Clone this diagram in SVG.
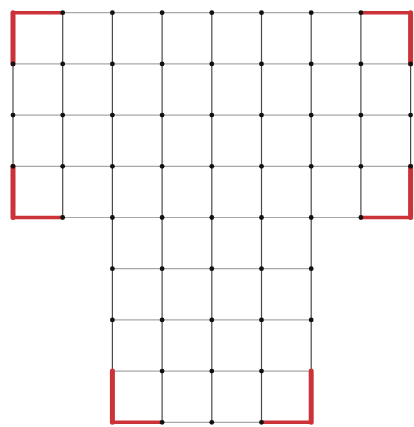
<svg xmlns="http://www.w3.org/2000/svg" width="414" height="427" viewBox="0 0 414 427">
<style>
.h{stroke:#a8a8a8;stroke-width:1.2;fill:none}
.v{stroke:#4a4a4a;stroke-width:1.2;fill:none}
.rv{stroke:#cc3338;stroke-width:5;fill:none;stroke-linecap:round}
.rh{stroke:#cc3338;stroke-width:3.5;fill:none}
.d{fill:#111}
</style>
<rect width="414" height="427" fill="#fff"/>
<g id="connectors">
<g id="horizontal">
<line class="h" x1="13" y1="12.7" x2="410.6" y2="12.7"/>
<line class="h" x1="13" y1="63.9" x2="410.6" y2="63.9"/>
<line class="h" x1="13" y1="115.1" x2="410.6" y2="115.1"/>
<line class="h" x1="13" y1="166.3" x2="410.6" y2="166.3"/>
<line class="h" x1="13" y1="217.5" x2="410.6" y2="217.5"/>
<line class="h" x1="112.4" y1="268.7" x2="311.2" y2="268.7"/>
<line class="h" x1="112.4" y1="319.9" x2="311.2" y2="319.9"/>
<line class="h" x1="112.4" y1="371.1" x2="311.2" y2="371.1"/>
<line class="h" x1="112.4" y1="422.3" x2="311.2" y2="422.3"/>
</g>
<g id="vertical">
<line class="v" x1="13" y1="12.7" x2="13" y2="217.5"/>
<line class="v" x1="62.7" y1="12.7" x2="62.7" y2="217.5"/>
<line class="v" x1="112.4" y1="12.7" x2="112.4" y2="422.3"/>
<line class="v" x1="162.1" y1="12.7" x2="162.1" y2="422.3"/>
<line class="v" x1="211.8" y1="12.7" x2="211.8" y2="422.3"/>
<line class="v" x1="261.5" y1="12.7" x2="261.5" y2="422.3"/>
<line class="v" x1="311.2" y1="12.7" x2="311.2" y2="422.3"/>
<line class="v" x1="360.9" y1="12.7" x2="360.9" y2="217.5"/>
<line class="v" x1="410.6" y1="12.7" x2="410.6" y2="217.5"/>
</g>
<g id="red-corners">
<line class="rh" x1="13" y1="12.7" x2="62.7" y2="12.7"/>
<line class="rv" x1="13" y1="12.7" x2="13" y2="63.9"/>
<line class="rh" x1="360.9" y1="12.7" x2="410.6" y2="12.7"/>
<line class="rv" x1="410.6" y1="12.7" x2="410.6" y2="63.9"/>
<line class="rv" x1="13" y1="166.3" x2="13" y2="217.5"/>
<line class="rh" x1="13" y1="217.5" x2="62.7" y2="217.5"/>
<line class="rv" x1="410.6" y1="166.3" x2="410.6" y2="217.5"/>
<line class="rh" x1="360.9" y1="217.5" x2="410.6" y2="217.5"/>
<line class="rv" x1="112.4" y1="371.1" x2="112.4" y2="422.3"/>
<line class="rh" x1="112.4" y1="422.3" x2="162.1" y2="422.3"/>
<line class="rv" x1="311.2" y1="371.1" x2="311.2" y2="422.3"/>
<line class="rh" x1="261.5" y1="422.3" x2="311.2" y2="422.3"/>
</g>
</g>
<g id="nodes">
<g id="row0"><circle class="d" cx="62.7" cy="12.7" r="2.4"/><circle class="d" cx="112.4" cy="12.7" r="2.4"/><circle class="d" cx="162.1" cy="12.7" r="2.4"/><circle class="d" cx="211.8" cy="12.7" r="2.4"/><circle class="d" cx="261.5" cy="12.7" r="2.4"/><circle class="d" cx="311.2" cy="12.7" r="2.4"/><circle class="d" cx="360.9" cy="12.7" r="2.4"/></g>
<g id="row1"><circle class="d" cx="13" cy="63.9" r="2.4"/><circle class="d" cx="62.7" cy="63.9" r="2.4"/><circle class="d" cx="112.4" cy="63.9" r="2.4"/><circle class="d" cx="162.1" cy="63.9" r="2.4"/><circle class="d" cx="211.8" cy="63.9" r="2.4"/><circle class="d" cx="261.5" cy="63.9" r="2.4"/><circle class="d" cx="311.2" cy="63.9" r="2.4"/><circle class="d" cx="360.9" cy="63.9" r="2.4"/><circle class="d" cx="410.6" cy="63.9" r="2.4"/></g>
<g id="row2"><circle class="d" cx="13" cy="115.1" r="2.4"/><circle class="d" cx="62.7" cy="115.1" r="2.4"/><circle class="d" cx="112.4" cy="115.1" r="2.4"/><circle class="d" cx="162.1" cy="115.1" r="2.4"/><circle class="d" cx="211.8" cy="115.1" r="2.4"/><circle class="d" cx="261.5" cy="115.1" r="2.4"/><circle class="d" cx="311.2" cy="115.1" r="2.4"/><circle class="d" cx="360.9" cy="115.1" r="2.4"/><circle class="d" cx="410.6" cy="115.1" r="2.4"/></g>
<g id="row3"><circle class="d" cx="13" cy="166.3" r="2.4"/><circle class="d" cx="62.7" cy="166.3" r="2.4"/><circle class="d" cx="112.4" cy="166.3" r="2.4"/><circle class="d" cx="162.1" cy="166.3" r="2.4"/><circle class="d" cx="211.8" cy="166.3" r="2.4"/><circle class="d" cx="261.5" cy="166.3" r="2.4"/><circle class="d" cx="311.2" cy="166.3" r="2.4"/><circle class="d" cx="360.9" cy="166.3" r="2.4"/><circle class="d" cx="410.6" cy="166.3" r="2.4"/></g>
<g id="row4"><circle class="d" cx="62.7" cy="217.5" r="2.4"/><circle class="d" cx="112.4" cy="217.5" r="2.4"/><circle class="d" cx="162.1" cy="217.5" r="2.4"/><circle class="d" cx="211.8" cy="217.5" r="2.4"/><circle class="d" cx="261.5" cy="217.5" r="2.4"/><circle class="d" cx="311.2" cy="217.5" r="2.4"/><circle class="d" cx="360.9" cy="217.5" r="2.4"/></g>
<g id="row5"><circle class="d" cx="112.4" cy="268.7" r="2.4"/><circle class="d" cx="162.1" cy="268.7" r="2.4"/><circle class="d" cx="211.8" cy="268.7" r="2.4"/><circle class="d" cx="261.5" cy="268.7" r="2.4"/><circle class="d" cx="311.2" cy="268.7" r="2.4"/></g>
<g id="row6"><circle class="d" cx="112.4" cy="319.9" r="2.4"/><circle class="d" cx="162.1" cy="319.9" r="2.4"/><circle class="d" cx="211.8" cy="319.9" r="2.4"/><circle class="d" cx="261.5" cy="319.9" r="2.4"/><circle class="d" cx="311.2" cy="319.9" r="2.4"/></g>
<g id="row7"><circle class="d" cx="162.1" cy="371.1" r="2.4"/><circle class="d" cx="211.8" cy="371.1" r="2.4"/><circle class="d" cx="261.5" cy="371.1" r="2.4"/></g>
<g id="row8"><circle class="d" cx="162.1" cy="422.3" r="2.4"/><circle class="d" cx="211.8" cy="422.3" r="2.4"/><circle class="d" cx="261.5" cy="422.3" r="2.4"/></g>
</g>
</svg>
